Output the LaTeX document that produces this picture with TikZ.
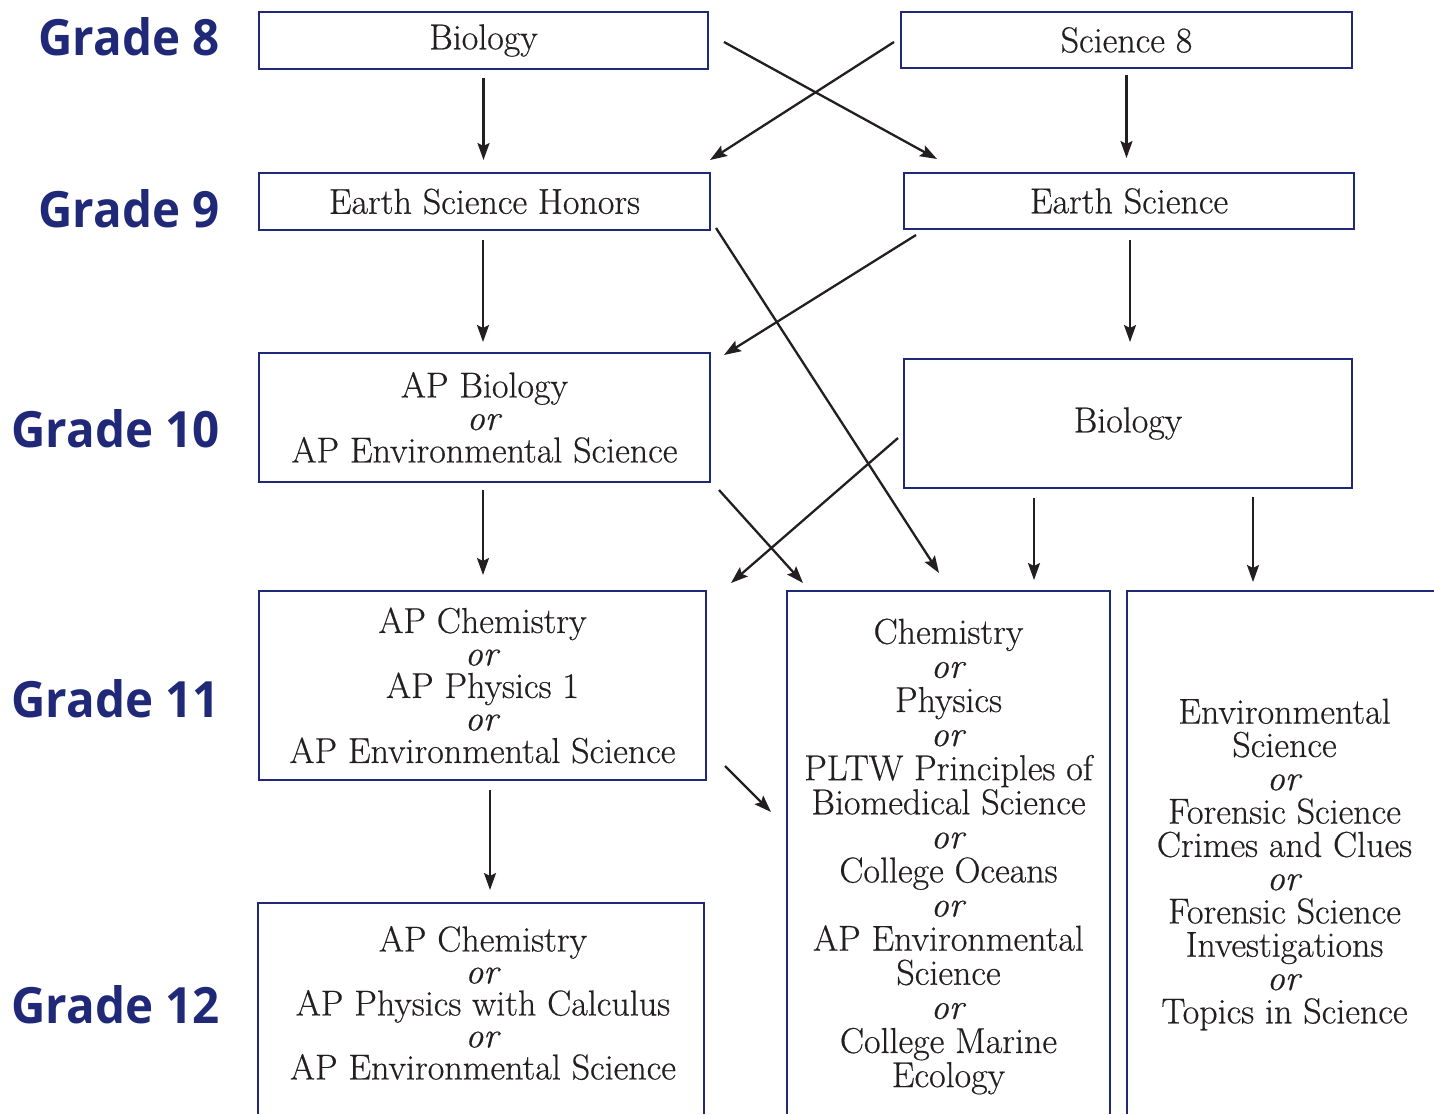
\documentclass[tikz,border=0pt]{standalone}
\usepackage{fontspec}
\setmainfont{Latin Modern Roman}[FakeBold=0.5]
\newfontfamily\gradefont{Open Sans}[FakeStretch=0.95]
\usetikzlibrary{arrows.meta,calc}
\definecolor{navy}{RGB}{31,41,120}
\definecolor{ink}{RGB}{35,31,32}
\lineskiplimit=-40pt
\newcommand\orr{\textit{or}}
\begin{document}
\begin{tikzpicture}[x=1pt,y=-1pt,
  box/.style={draw=navy,line width=2.8pt,rectangle,inner sep=0pt,outer sep=0pt,
    align=center,text=ink,font=\fontsize{36}{32.5}\selectfont},
  openbox/.style={rectangle,inner sep=0pt,outer sep=0pt},
  boxline/.style={draw=navy,line width=2.8pt},
  txt/.style={align=center,text=ink,inner sep=0pt,font=\fontsize{36}{#1}\selectfont},
  grade/.style={font=\gradefont\bfseries\fontsize{50}{50}\selectfont,text=navy,inner sep=0pt,anchor=base east},
  arr/.style={draw=ink,line width=2.3pt,-{Stealth[length=17pt,width=12pt,inset=3pt]}}]
\fill[white] (0,0) rectangle (1434,1114);
\useasboundingbox (0,0) rectangle (1434,1114);

% grade labels
\node[grade] (gr8)  at (220,55)   {Grade 8};
\node[grade] (gr9)  at (220,227)  {Grade 9};
\node[grade] (gr10) at (220,447)  {Grade 10};
\node[grade] (gr11) at (220,717)  {Grade 11};
\node[grade] (gr12) at (220,1023) {Grade 12};

% closed boxes
\node[box,minimum width=449pt,minimum height=57pt] (bio8) at (483.5,40.5) {Biology};
\node[box,minimum width=451pt,minimum height=56pt] (sci8) at (1126.5,40) {Science 8};
\node[box,minimum width=451pt,minimum height=57pt] (esh) at (484.5,201.5) {Earth Science Honors};
\node[box,minimum width=450pt,minimum height=56pt] (es) at (1129,201) {Earth Science};
\node[box,minimum width=451pt,minimum height=129pt] (apbio) at (484.5,417.5)
  {AP Biology\\\orr\\AP Environmental Science};
\node[box,minimum width=448pt,minimum height=129pt] (bio10) at (1128,423.5) {Biology};
\node[box,minimum width=447pt,minimum height=189pt] (g11) at (482.5,685.5)
  {AP Chemistry\\\orr\\AP Physics 1\\\orr\\AP Environmental Science};

% open boxes (cut by the picture edge)
\node[openbox,minimum width=323pt,minimum height=523pt] (mid) at (948.5,852.5) {};
\node[openbox,minimum width=307pt,minimum height=523pt] (rgt) at (1280.5,852.5) {};
\node[openbox,minimum width=446pt,minimum height=211pt] (g12) at (481,1008.5) {};
\draw[boxline] (mid.south west) -- (mid.north west) -- (mid.north east) -- (mid.south east);
\draw[boxline] (rgt.south west) -- (rgt.north west) -- (rgt.north east);
\draw[boxline] (g12.south west) -- (g12.north west) -- (g12.north east) -- (g12.south east);

\node[txt=34.1] (midt) at ($(mid.center)+(0,4)$)
  {Chemistry\\\orr\\Physics\\\orr\\PLTW Principles of\\Biomedical Science\\\orr\\College Oceans\\\orr\\AP Environmental\\Science\\\orr\\College Marine\\Ecology};
\node[txt=33.3] (rgtt) at ($(rgt.center)+(4,12)$)
  {Environmental\\Science\\\orr\\Forensic Science\\Crimes and Clues\\\orr\\Forensic Science\\Investigations\\\orr\\Topics in Science};
\node[txt=32] (g12t) at ($(g12.center)+(2,-5.5)$)
  {AP Chemistry\\\orr\\AP Physics with Calculus\\\orr\\AP Environmental Science};

% connectors
\draw[arr] ($(bio8.south)+(0,9)$) -- ($(bio8.south |- esh.north)+(0,-13)$);
\draw[arr] ($(bio8.east)+(16,1.5)$) -- ($(es.north west)+(33,-14)$);
\draw[arr] ($(sci8.west)+(-7,2)$) -- ($(esh.north east)+(0,-13)$);
\draw[arr] ($(sci8.south)+(0,7)$) -- ($(sci8.south |- es.north)+(0,-15)$);
\draw[arr] ($(esh.south)+(-1.5,10)$) -- ($(esh.south |- apbio.north)+(-1.5,-11)$);
\draw[arr] ($(esh.south east)+(6,-2)$) -- ($(mid.north west)+(152,-18)$);
\draw[arr] ($(es.south west)+(12,6)$) -- ($(apbio.north east)+(14,2)$);
\draw[arr] ($(es.south)+(1,11)$) -- ($(es.south |- bio10.north)+(1,-17)$);
\draw[arr] ($(apbio.south)+(-1.5,8)$) -- ($(apbio.south |- g11.north)+(-1.5,-16)$);
\draw[arr] ($(apbio.south east)+(9,8)$) -- ($(mid.north west)+(16,-8)$);
\draw[arr] ($(bio10.west)+(-6,14.5)$) -- ($(g11.north east)+(25,-8)$);
\draw[arr] ($(bio10.south)+(-94,10)$) -- ($(bio10.south |- mid.north)+(-94,-11)$);
\draw[arr] ($(bio10.south)+(125,9)$) -- ($(bio10.south |- rgt.north)+(125,-9)$);
\draw[arr] ($(g11.east)+(19,80.5)$) -- ($(mid.west)+(-16,-40.5)$);
\draw[arr] ($(g11.south)+(7.5,10)$) -- ($(g11.south |- g12.north)+(7.5,-13)$);
\end{tikzpicture}
\end{document}
